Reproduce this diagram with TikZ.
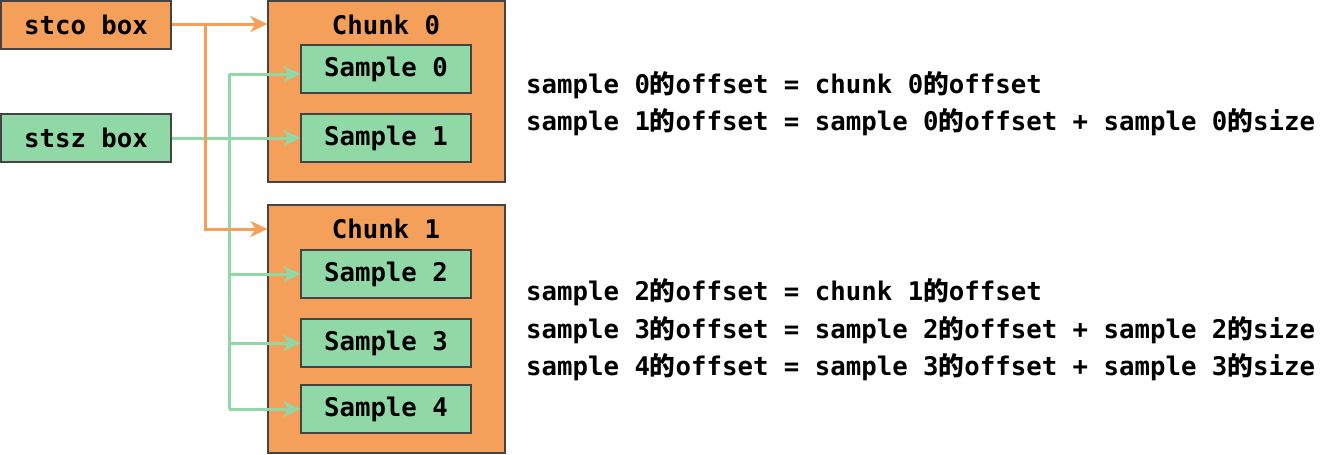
\documentclass[tikz,border=0pt]{standalone}
\usepackage{fontspec}
\setmonofont{DejaVu Sans Mono}
\newfontfamily\cjk{Noto Sans CJK SC}[UprightFont=* Bold]
\usetikzlibrary{arrows.meta}
\definecolor{org}{HTML}{F49F5A}
\definecolor{grn}{HTML}{91D8A7}
\definecolor{bord}{HTML}{444444}
\newcommand{\de}{{\cjk 的}}
\begin{document}
\begin{tikzpicture}[x=1pt,y=-1pt,
  txt/.style={font=\ttfamily\bfseries\fontsize{25.7}{30}\selectfont, inner sep=0pt},
  box/.style={draw=bord, line width=1.2pt, inner sep=0pt, minimum width=170pt, minimum height=48pt, txt},
  obox/.style={box, fill=org},
  gbox/.style={box, fill=grn},
  chunk/.style={draw=bord, line width=1.2pt, fill=org, minimum width=237pt, inner sep=0pt},
  arr/.style={-{Stealth[length=17pt,width=16pt,inset=5pt]}},
  oline/.style={draw=org, line width=3pt},
  gline/.style={draw=grn, line width=3pt},
  eq/.style={txt, anchor=west}
]
\useasboundingbox (0,0) rectangle (1331,455);

\node[obox] (stco) at (86,25) {stco box};
\node[gbox] (stsz) at (86,138) {stsz box};

\node[chunk, minimum height=181pt] (chunk0) at (386.5,91.5) {};
\node[txt] (c0lab) at (386,25) {Chunk 0};
\node[gbox] (s0) at (386,69) {Sample 0};
\node[gbox] (s1) at (386,138) {Sample 1};

\node[chunk, minimum height=248pt] (chunk1) at (386.5,329) {};
\node[txt] (c1lab) at (386,229) {Chunk 1};
\node[gbox] (s2) at (386,274) {Sample 2};
\node[gbox] (s3) at (386,343) {Sample 3};
\node[gbox] (s4) at (386,409) {Sample 4};

\coordinate (ob) at (205,24);
\coordinate (gv) at (229,138);
\coordinate (s0in) at ([yshift=-5pt]s0.west);

% green connectors
\draw[gline, arr] (stsz.east) -- (stsz.east -| s1.west);
\draw[gline] (gv |- s0in) -- (gv |- s4.west);
\draw[gline, arr] (gv |- s0in) -- (s0in);
\draw[gline, arr] (gv |- s2.west) -- (s2.west);
\draw[gline, arr] (gv |- s3.west) -- (s3.west);
\draw[gline, arr] (gv |- s4.west) -- (s4.west);

% orange connectors
\draw[oline, arr] (stco.east |- ob) -- (ob -| chunk0.west);
\draw[oline, arr] (ob) |- (chunk1.west |- c1lab);

% equations
\node[eq] (e1) at (526,85) {sample 0\de offset = chunk 0\de offset};
\node[eq] (e2) at (526,122) {sample 1\de offset = sample 0\de offset + sample 0\de size};
\node[eq] (e3) at (526,292) {sample 2\de offset = chunk 1\de offset};
\node[eq] (e4) at (526,330) {sample 3\de offset = sample 2\de offset + sample 2\de size};
\node[eq] (e5) at (526,367) {sample 4\de offset = sample 3\de offset + sample 3\de size};
\end{tikzpicture}
\end{document}
